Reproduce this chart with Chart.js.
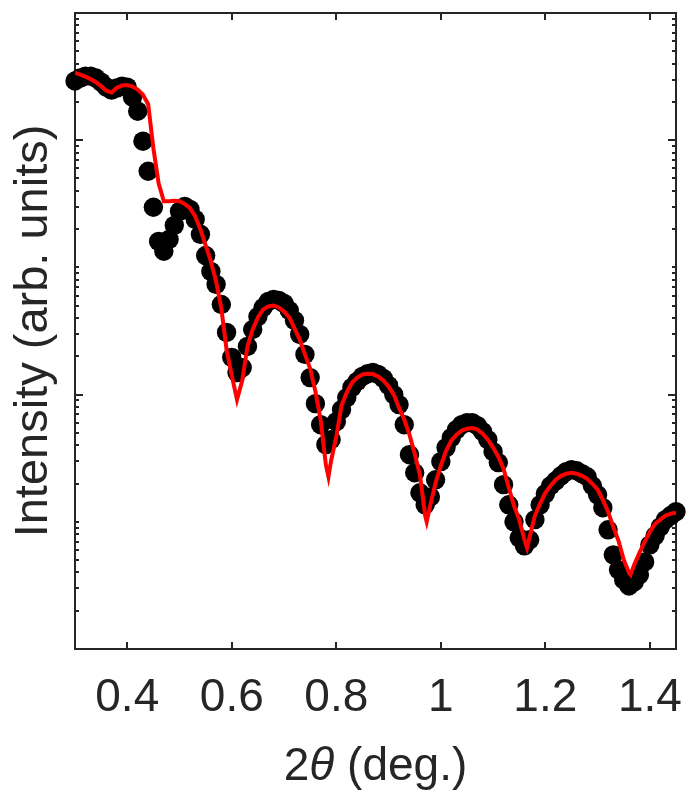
<!DOCTYPE html>
<html>
<head>
<meta charset="utf-8">
<script src="https://cdn.jsdelivr.net/npm/chart.js@4"></script>
<style>
  html, body { margin: 0; padding: 0; background: #fff; }
</style>
</head>
<body>
<canvas id="myChart" width="688" height="793"></canvas>
<script>
// measured reflectivity, one point every 0.01 deg
const twoTheta = [
  0.30, 0.31, 0.32, 0.33, 0.34, 0.35, 0.36, 0.37, 0.38, 0.39,
  0.40, 0.41, 0.42, 0.43, 0.44, 0.45, 0.46, 0.47, 0.48, 0.49,
  0.50, 0.51, 0.52, 0.53, 0.54, 0.55, 0.56, 0.57, 0.58, 0.59,
  0.60, 0.61, 0.62, 0.63, 0.64, 0.65, 0.66, 0.67, 0.68, 0.69,
  0.70, 0.71, 0.72, 0.73, 0.74, 0.75, 0.76, 0.77, 0.78, 0.79,
  0.80, 0.81, 0.82, 0.83, 0.84, 0.85, 0.86, 0.87, 0.88, 0.89,
  0.90, 0.91, 0.92, 0.93, 0.94, 0.95, 0.96, 0.97, 0.98, 0.99,
  1.00, 1.01, 1.02, 1.03, 1.04, 1.05, 1.06, 1.07, 1.08, 1.09,
  1.10, 1.11, 1.12, 1.13, 1.14, 1.15, 1.16, 1.17, 1.18, 1.19,
  1.20, 1.21, 1.22, 1.23, 1.24, 1.25, 1.26, 1.27, 1.28, 1.29,
  1.30, 1.31, 1.32, 1.33, 1.34, 1.35, 1.36, 1.37, 1.38, 1.39,
  1.40, 1.41, 1.42, 1.43, 1.44, 1.45
];
const measured = [
  29200, 30800, 31900, 31900, 30800, 28600, 26100, 24800, 25700, 26600,
  26100, 21800, 16900, 9820, 5700, 2970, 1600, 1340, 1660, 2140,
  2760, 3020, 2860, 2390, 1820, 1240, 930, 735, 511, 308,
  196, 149, 163, 239, 325, 411, 484, 540, 560, 550,
  521, 459, 383, 297, 207, 136, 84.9, 58.0, 40.4, 44.2,
  61.3, 76.2, 94.7, 114, 127, 139, 146, 149, 144, 134,
  118, 100, 83.4, 58.0, 33.7, 24.3, 16.9, 13.6, 15.7, 21.4,
  29.7, 38.3, 45.9, 53.0, 58.0, 60.2, 60.2, 57.0, 51.1, 44.2,
  35.6, 29.2, 19.6, 13.6, 10.0, 7.48, 6.47, 7.22, 10.4, 13.6,
  16.6, 19.2, 21.0, 23.0, 24.8, 25.7, 25.2, 23.9, 22.6, 19.2,
  16.3, 12.9, 8.65, 5.50, 4.19, 3.49, 3.13, 3.37, 3.83, 4.84,
  6.59, 7.76, 9.13, 10.4, 11.2, 12.0
];

// fitted curve (extra points at the sharp minima)
const fitTheta = [
  0.30, 0.31, 0.32, 0.33, 0.34, 0.35, 0.36, 0.37, 0.38, 0.39,
  0.40, 0.41, 0.42, 0.43, 0.44, 0.45, 0.46, 0.47, 0.48, 0.49,
  0.50, 0.51, 0.52, 0.53, 0.54, 0.55, 0.56, 0.57, 0.58, 0.59,
  0.60, 0.61, 0.62, 0.63, 0.64, 0.65, 0.66, 0.67, 0.68, 0.69,
  0.70, 0.71, 0.72, 0.73, 0.74, 0.75, 0.76, 0.77, 0.78, 0.785, 0.79,
  0.80, 0.81, 0.82, 0.83, 0.84, 0.85, 0.86, 0.87, 0.88, 0.89,
  0.90, 0.91, 0.92, 0.93, 0.94, 0.95, 0.96, 0.97, 0.973, 0.98, 0.99,
  1.00, 1.01, 1.02, 1.03, 1.04, 1.05, 1.06, 1.07, 1.08, 1.09,
  1.10, 1.11, 1.12, 1.13, 1.14, 1.15, 1.16, 1.165, 1.17, 1.18, 1.19,
  1.20, 1.21, 1.22, 1.23, 1.24, 1.25, 1.26, 1.27, 1.28, 1.29,
  1.30, 1.31, 1.32, 1.33, 1.34, 1.35, 1.36, 1.363, 1.37, 1.38, 1.39,
  1.40, 1.41, 1.42, 1.43, 1.44, 1.45
];
const fitCurve = [
  34000, 32800, 31600, 30200, 28600, 26600, 24500, 23700, 25900, 26900,
  27100, 26400, 25000, 22800, 19200, 8650, 4590, 3310, 3310, 3340,
  3310, 3160, 2920, 2520, 1990, 1490, 1115, 776, 476, 226,
  141, 91.3, 129, 239, 325, 404, 467, 493, 502, 484,
  450, 404, 331, 271, 207, 160, 106, 63.6, 28.1, 22.6, 30.2,
  46.7, 81.9, 104, 124, 136, 144, 146, 145, 139, 129,
  116, 100, 79.0, 63.6, 48.4, 34.3, 23.4, 11.2, 10.0, 13.6, 20.3,
  27.6, 36.2, 43.4, 48.4, 52.1, 54.0, 54.5, 53.0, 49.3, 44.2,
  38.3, 32.5, 26.1, 18.5, 13.4, 10.4, 7.22, 6.24, 7.62, 11.2, 13.9,
  16.9, 19.2, 21.4, 23.0, 23.9, 24.3, 23.9, 23.0, 21.8, 19.9,
  17.9, 14.9, 12.0, 9.13, 7.09, 5.02, 3.97, 3.83, 4.59, 5.70, 6.96,
  8.34, 9.65, 10.4, 11.2, 11.6, 11.8
];

const xTicks = [0.4, 0.6, 0.8, 1, 1.2, 1.4];
const yMajorTicks = [1, 100, 10000];
const yDecades = [1, 10, 100, 1000, 10000];

const FONT = "'Liberation Sans', Arial, Helvetica, sans-serif";
const INK = "#262626";

// minor log ticks 2..9 in every decade, plus the decades themselves
const yTickValues = [];
yDecades.forEach((d) => {
  for (let m = 1; m <= 9; m++) yTickValues.push(d * m);
});

// box around the axes with inward ticks on all four sides, like matlab
const boxTicks = {
  id: "boxTicks",
  beforeDatasetsDraw(chart) {
    const { ctx, chartArea: a } = chart;
    const x = chart.scales.x;
    const y = chart.scales.y;
    ctx.save();
    ctx.strokeStyle = INK;
    ctx.lineWidth = 2;
    ctx.beginPath();
    xTicks.forEach((v) => {
      const px = Math.round(x.getPixelForValue(v));
      ctx.moveTo(px, a.bottom);
      ctx.lineTo(px, a.bottom - 7);
      ctx.moveTo(px, a.top);
      ctx.lineTo(px, a.top + 7);
    });
    yTickValues.forEach((v) => {
      const py = Math.round(y.getPixelForValue(v));
      const len = yMajorTicks.includes(v) ? 8 : 4;
      ctx.moveTo(a.left, py);
      ctx.lineTo(a.left + len, py);
      ctx.moveTo(a.right, py);
      ctx.lineTo(a.right - len, py);
    });
    ctx.stroke();
    ctx.strokeRect(a.left, a.top, a.right - a.left, a.bottom - a.top);
    ctx.restore();
  },
  afterDraw(chart) {
    // x title: "2θ (deg.)" with an italic theta
    const { ctx, chartArea: a } = chart;
    const parts = [
      ["2", "46px " + FONT],
      ["\u03b8", "italic 46px " + FONT],
      [" (deg.)", "46px " + FONT],
    ];
    ctx.save();
    ctx.fillStyle = INK;
    ctx.textBaseline = "alphabetic";
    let total = 0;
    parts.forEach((p) => {
      ctx.font = p[1];
      total += ctx.measureText(p[0]).width;
    });
    let cx = (a.left + a.right) / 2 - total / 2;
    parts.forEach((p) => {
      ctx.font = p[1];
      ctx.fillText(p[0], cx, 780);
      cx += ctx.measureText(p[0]).width;
    });
    ctx.restore();
  },
};

const canvasCtx = document.getElementById("myChart").getContext("2d");

const chartData = {
  datasets: [
    {
      label: "fit",
      data: fitTheta.map((t, i) => ({ x: t, y: fitCurve[i] })),
      showLine: true,
      borderColor: "#ff0000",
      borderWidth: 4,
      pointRadius: 0,
      tension: 0,
      order: 0,
    },
    {
      label: "data",
      data: twoTheta.map((t, i) => ({ x: t, y: measured[i] })),
      backgroundColor: "#000000",
      borderWidth: 0,
      pointRadius: 9.7,
      clip: false,
      order: 1,
    },
  ],
};

const config = {
  type: "scatter",
  data: chartData,
  options: {
    responsive: false,
    animation: false,
    devicePixelRatio: 1,
    layout: { padding: { top: 13, right: 12, left: 0, bottom: 0 } },
    plugins: { legend: { display: false }, tooltip: { enabled: false } },
    scales: {
      x: {
        type: "linear",
        min: 0.3,
        max: 1.45,
        afterBuildTicks: (s) => {
          s.ticks = xTicks.map((v) => ({ value: v }));
        },
        afterFit: (s) => {
          s.height = 144;
          // tick labels may run past the box edges, don't shrink the plot for them
          s.paddingLeft = 0;
          s.paddingRight = 0;
        },
        grid: { display: false, drawTicks: false },
        border: { display: false },
        ticks: {
          padding: 22,
          color: INK,
          autoSkip: false,
          maxRotation: 0,
          font: { family: FONT, size: 46 },
          callback: (v) => (v === 1 ? "1" : v.toFixed(1)),
        },
      },
      y: {
        type: "logarithmic",
        min: 1,
        max: 100000,
        afterFit: (s) => {
          s.width = 75;
          s.paddingTop = 0;
          s.paddingBottom = 0;
        },
        grid: { display: false, drawTicks: false },
        border: { display: false },
        ticks: { display: false },
        title: {
          display: true,
          text: "Intensity (arb. units)",
          color: INK,
          font: { family: FONT, size: 47 },
          padding: { top: 6, bottom: 0 },
        },
      },
    },
  },
  plugins: [boxTicks],
};

let myChart = new Chart(canvasCtx, config);
</script>
</body>
</html>
